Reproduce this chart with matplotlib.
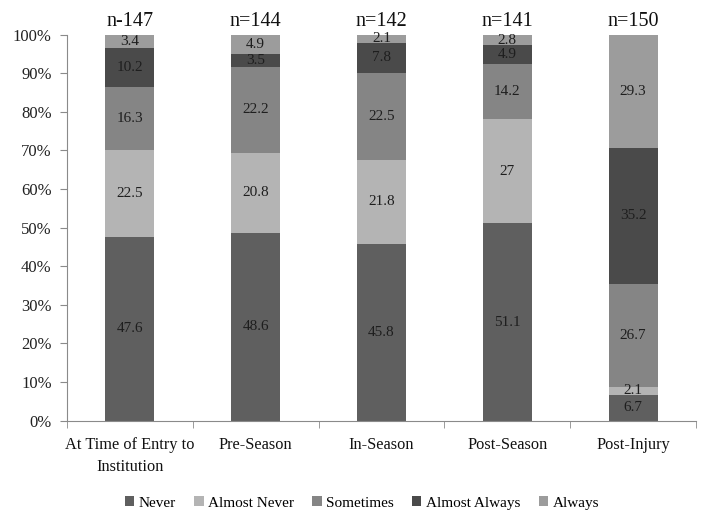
import matplotlib
matplotlib.use("Agg")
import matplotlib.pyplot as plt
import numpy as np

plt.rcParams["font.family"] = ["Liberation Serif", "DejaVu Serif"]

CATEGORIES = ["At Time of Entry to\nInstitution", "Pre-Season", "In-Season",
              "Post-Season", "Post-Injury"]
N_LABELS = ["n-147", "n=144", "n=142", "n=141", "n=150"]
SERIES = ["Never", "Almost Never", "Sometimes", "Almost Always", "Always"]
NEVER = [47.6, 48.6, 45.8, 51.1, 6.7]
ALMOST_NEVER = [22.5, 20.8, 21.8, 27, 2.1]
SOMETIMES = [16.3, 22.2, 22.5, 14.2, 26.7]
ALMOST_ALWAYS = [10.2, 3.5, 7.8, 4.9, 35.2]
ALWAYS = [3.4, 4.9, 2.1, 2.8, 29.3]

COLORS = ["#5f5f5f", "#b4b4b4", "#858585", "#4a4a4a", "#9c9c9c"]
AXIS = "#8a8a8a"
TEXT = "#1e1e1e"

fig = plt.figure(figsize=(7.03, 5.17), dpi=100)
ax = fig.add_axes([0.0953, 0.1863, 0.8947, 0.7466])

x = np.arange(len(CATEGORIES))
bottom = np.zeros(len(CATEGORIES))
for name, vals, col in zip(SERIES, [NEVER, ALMOST_NEVER, SOMETIMES, ALMOST_ALWAYS, ALWAYS], COLORS):
    vals = np.array(vals, dtype=float)
    ax.bar(x, vals, 0.39, bottom=bottom, color=col, label=name, zorder=2)
    for xi, b, v in zip(x, bottom, vals):
        ax.text(xi, b + v / 2, f"{v:g}", ha="center", va="center", fontsize=11,
                color=TEXT, zorder=3)
    bottom += vals

# sample sizes above each bar
for xi, n in zip(x, N_LABELS):
    ax.text(xi, 101.0, n, ha="center", va="bottom", fontsize=14.5, color="#111111")

ax.set_xlim(-0.5, len(CATEGORIES) - 0.5)
ax.set_ylim(0, 100)
ax.set_yticks(np.arange(0, 101, 10))
ax.set_yticklabels([f"{v}%" for v in range(0, 101, 10)])
ax.set_xticks(x)
ax.set_xticklabels(CATEGORIES, linespacing=1.45)
ax.set_xticks(np.arange(-0.5, len(CATEGORIES)), minor=True)
ax.tick_params(axis="x", which="major", length=0, pad=12, labelsize=11.8, colors="#111111")
ax.tick_params(axis="x", which="minor", length=5, color=AXIS, direction="out")
ax.tick_params(axis="y", length=5, color=AXIS, labelsize=12, labelcolor="#222222", pad=6)

for s in ["top", "right"]:
    ax.spines[s].set_visible(False)
ax.spines["left"].set_color(AXIS)
ax.spines["bottom"].set_color(AXIS)

fig.legend(loc="center", bbox_to_anchor=(0.515, 0.027), ncol=5, frameon=False,
           fontsize=11, handlelength=0.6, handleheight=0.6, handletextpad=0.3,
           columnspacing=1.2)

fig.savefig("out.png", dpi=100)
